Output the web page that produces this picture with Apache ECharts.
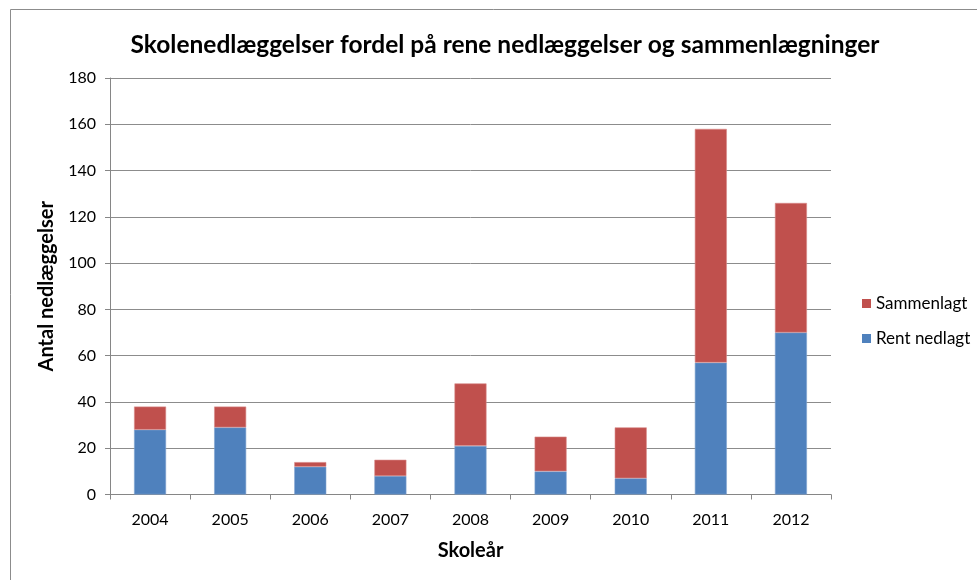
<!DOCTYPE html>
<html><head><meta charset="utf-8">
<script src="https://cdn.jsdelivr.net/npm/echarts@6/dist/echarts.min.js"></script>
<style>html,body{margin:0;padding:0;background:#fff}#c{width:977px;height:580px}</style>
</head><body><div id="c"></div>
<script>
var categories = ['2004','2005','2006','2007','2008','2009','2010','2011','2012'];
var rentNedlagt = [28, 29, 12, 8, 21, 10, 7, 57, 70];
var sammenlagt = [10, 9, 2, 7, 27, 15, 22, 101, 56];
var yTicks = {min: 0, max: 180, interval: 20};

var font = 'Lato, "Open Sans", sans-serif';
var chart = echarts.init(document.getElementById('c'));
chart.setOption({
  animation: false,
  backgroundColor: '#fff',
  textStyle: {fontFamily: font},
  title: {
    text: 'Skolenedlæggelser fordel på rene nedlæggelser og sammenlægninger',
    left: 500, textAlign: 'center', top: 28,
    textStyle: {fontSize: 24.5, fontWeight: 'bold', color: '#000', fontFamily: font}
  },
  legend: {
    orient: 'vertical', left: 857, top: 290,
    itemWidth: 9, itemHeight: 9, itemGap: 18,
    data: ['Sammenlagt', 'Rent nedlagt'],
    itemStyle: {borderWidth: 0},
    textStyle: {fontSize: 17, color: '#000', fontFamily: font},
    icon: 'rect'
  },
  grid: {left: 110, right: 146, top: 78, bottom: 85.5, containLabel: false},
  xAxis: {
    type: 'category', data: categories,
    name: 'Skoleår', nameLocation: 'middle', nameGap: 46,
    nameTextStyle: {fontSize: 20, fontWeight: 'bold', color: '#000', fontFamily: font},
    axisLine: {lineStyle: {color: '#868686'}},
    axisTick: {show: true, length: 5, lineStyle: {color: '#868686'}},
    axisLabel: {fontSize: 16, color: '#000', margin: 17, fontFamily: font}
  },
  yAxis: {
    type: 'value', min: yTicks.min, max: yTicks.max, interval: yTicks.interval,
    name: 'Antal nedlæggelser', nameLocation: 'middle', nameGap: 53, nameRotate: 90,
    nameTextStyle: {fontSize: 20, fontWeight: 'bold', color: '#000', fontFamily: font},
    axisLine: {show: true, lineStyle: {color: '#868686'}},
    axisTick: {show: true, length: 5, lineStyle: {color: '#868686'}},
    axisLabel: {fontSize: 16, color: '#000', margin: 14, fontFamily: font},
    splitLine: {lineStyle: {color: '#8c8c8c'}}
  },
  graphic: [
    {type: 'line', shape: {x1: 10.5, y1: 9.5, x2: 977, y2: 9.5}, style: {stroke: '#8c8c8c', lineWidth: 1}, silent: true},
    {type: 'line', shape: {x1: 10.5, y1: 9.5, x2: 10.5, y2: 580}, style: {stroke: '#8c8c8c', lineWidth: 1}, silent: true}
  ],
  series: [
    {name: 'Rent nedlagt', type: 'bar', stack: 'a', data: rentNedlagt, barWidth: 32,
      itemStyle: {color: '#4F81BD', borderColor: '#7fa3d0', borderWidth: 0.6}},
    {name: 'Sammenlagt', type: 'bar', stack: 'a', data: sammenlagt, barWidth: 32,
      itemStyle: {color: '#C0504D', borderColor: '#d88a88', borderWidth: 0.6}}
  ]
});
</script></body></html>
